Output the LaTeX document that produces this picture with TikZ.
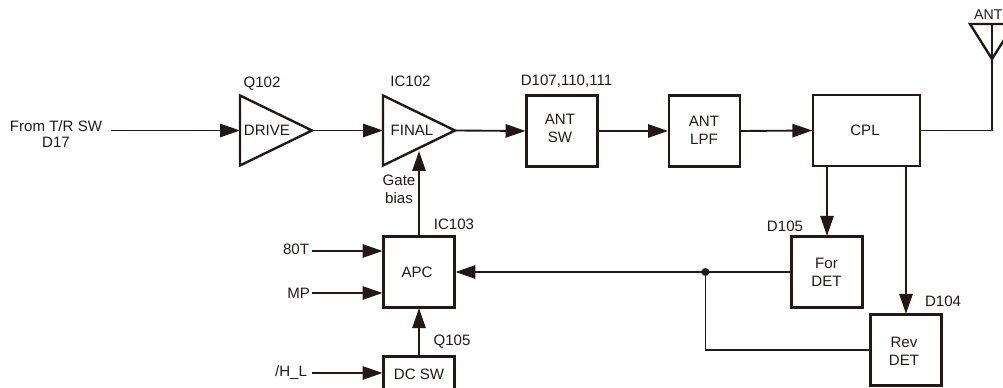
\documentclass[tikz,border=0pt]{standalone}
\usepackage{fontspec}
\setmainfont{Liberation Sans}
\usetikzlibrary{arrows.meta,shapes.geometric}
\definecolor{ink}{HTML}{231815}
\tikzset{
  x=0.75pt,y=-0.75pt,
  every node/.style={text=ink,font=\fontsize{11.3}{13.5}\selectfont,inner sep=0pt,outer sep=0pt},
  block/.style={draw=ink,line width=1.8pt,minimum width=53.5pt,minimum height=53pt,align=center,anchor=center,outer sep=0.6pt},
  lbl/.style={align=center},
  wire/.style={draw=ink,line width=1.4pt},
  arrow/.style={wire,-{Triangle[length=15pt,width=10pt]}},
  tri/.style={draw=ink,line width=1.8pt,line join=miter}
}
\begin{document}
\begin{tikzpicture}
\useasboundingbox (0,0) rectangle (1003,388);
\clip (0,0) rectangle (1003,388);
% text labels
\node[lbl,font=\fontsize{11.3}{12}\selectfont] (from) at (56,134) {From T/R SW\\D17};
\coordinate (fromend) at (110.5,130.5);
\node[lbl] (q102) at (262,84) {Q102};
\node[lbl] (ic102) at (410.5,81) {IC102};
\node[lbl] (d107) at (566.5,81) {D107,110,111};
\node[lbl] (gate) at (399,189) {Gate\\bias};
\node[lbl] (ic103) at (454,224) {IC103};
\node[lbl] (q105) at (452,342) {Q105};
\node[lbl] (d105) at (785,226) {D105};
\node[lbl] (d104) at (943,301.5) {D104};
\node[lbl,anchor=east] (t80) at (309,249) {80T};
\node[lbl,anchor=east] (mp) at (310,293) {MP};
\node[lbl,anchor=east] (hl) at (307,373) {/H\_L};
\node[lbl,anchor=east,font=\fontsize{10.6}{12}\selectfont] (ant) at (1002.5,15) {ANT};
% amplifiers
\coordinate (dl) at (240,130.5);
\coordinate (dr) at (312,130.5);
\draw[tri] (240,95.5) -- (312,130.5) -- (240,165.5) -- cycle;
\node (drive) at (267,130.5) {DRIVE};
\coordinate (fl) at (383,130.5);
\coordinate (fr) at (455,130.5);
\draw[tri] (383,95.5) -- (455,130.5) -- (383,165.5) -- cycle;
\node (final) at (412,130.5) {FINAL};
% blocks
\node[block] (antsw) at (562,131) {};
\node (antswt) at (560,128.5) [lbl] {ANT\\SW};
\node[block] (antlpf) at (704.5,131) {};
\node (antlpft) at (704,130) [lbl] {ANT\\LPF};
\node[block,minimum width=80pt] (cpl) at (866.5,130.5) {};
\node (cplt) at (865,130) {CPL};
\node[block] (apc) at (419,272) {};
\node (apct) at (417,272.5) {APC};
\node[block] (dcsw) at (419,392) {};
\node (dcswt) at (419,374) {DC SW};
\node[block] (fordet) at (827,272) {};
\node (fordett) at (826.5,272.5) [lbl] {For\\DET};
\node[block] (revdet) at (906,350) {};
\node (revdett) at (904,351) [lbl] {Rev\\DET};
% antenna
\coordinate (anttop) at (992,24);
\coordinate (antapex) at (992,59);
\draw[tri] (970,24) -- (1014,24) -- (antapex) -- cycle;
% connectors
\draw[arrow] (fromend) -- (dl);
\draw[arrow] (dr) -- (fl);
\draw[arrow] (fr) -- (antsw.west);
\draw[arrow] (antsw.east) -- (antlpf.west);
\draw[arrow] (antlpf.east) -- (cpl.west);
\draw[wire] (cpl.east) -- (antapex |- cpl.east) -- (anttop);
\coordinate (gatetop) at (419,151);
\draw[arrow] (apc.north -| gatetop) -- (gatetop);
\coordinate (a80) at (312,251);
\coordinate (amp) at (312,293);
\coordinate (ahl) at (312,373);
\draw[arrow] (a80) -- (a80 -| apc.west);
\draw[arrow] (amp) -- (amp -| apc.west);
\draw[arrow] (ahl) -- (ahl -| dcsw.west);
\draw[arrow] (dcsw.north) -- (apc.south);
\coordinate (junc) at (705.5,272);
\draw[arrow] (fordet.west) -- (apc.east);
\draw[wire] (junc) |- (revdet.west);
\fill[ink] (junc) circle (3pt);
\draw[arrow] (cpl.south -| fordet.north) -- (fordet.north);
\draw[arrow] (cpl.south -| revdet.north) -- (revdet.north);
\end{tikzpicture}
\end{document}
